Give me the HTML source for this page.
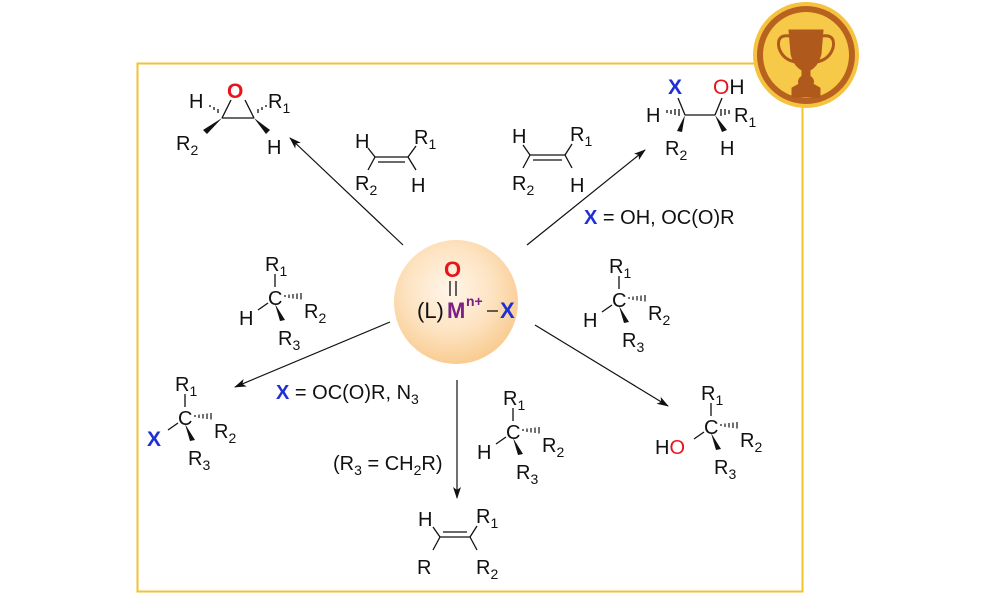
<!DOCTYPE html>
<html><head><meta charset="utf-8"><style>
body{margin:0;background:#fff}
svg{display:block}
text{font-family:"Liberation Sans",sans-serif;font-size:20px;fill:#111}
.s{font-size:14px}
</style></head><body>
<svg width="1000" height="595" viewBox="0 0 1000 595" xmlns="http://www.w3.org/2000/svg">
<defs>
<radialGradient id="g" cx="45%" cy="40%" r="60%">
<stop offset="0" stop-color="#fff6ea"/><stop offset="0.6" stop-color="#fde2bf"/><stop offset="1" stop-color="#f9cc92"/>
</radialGradient>
<marker id="a" markerWidth="12" markerHeight="8" refX="11" refY="4" orient="auto" markerUnits="userSpaceOnUse">
<path d="M0,0 L12,4 L0,8 L3,4z" fill="#111"/></marker>
<g id="tet">
<line x1="0" y1="-24" x2="0" y2="-11" stroke="#111" stroke-width="1.3"/>
<g stroke="#111" stroke-width="1.2">
<line x1="10" y1="-3" x2="10" y2="-1"/><line x1="14" y1="-3.5" x2="14" y2="0"/><line x1="18" y1="-4" x2="18" y2="0.5"/><line x1="22" y1="-4.5" x2="22" y2="1"/><line x1="26" y1="-5" x2="26" y2="1.5"/>
</g>
<path d="M0,6 L10,22 L5,23z" fill="#111"/>
</g>
</defs>
<rect x="137.5" y="63.5" width="665" height="528" fill="none" stroke="#f2c230" stroke-width="2"/>

<!-- center -->
<circle cx="456" cy="302" r="62" fill="url(#g)"/>
<text x="444" y="277" style="font-size:22px;font-weight:bold;fill:#e8141b">O</text>
<line x1="450" y1="281" x2="450" y2="296" stroke="#111" stroke-width="1.3"/>
<line x1="456" y1="281" x2="456" y2="296" stroke="#111" stroke-width="1.3"/>
<text x="417" y="318" style="font-size:22px">(L)</text>
<text x="447" y="318" style="font-size:22px;font-weight:bold;fill:#7a1f86">M</text>
<text x="466" y="306" style="font-size:14px;font-weight:bold;fill:#7a1f86">n+</text>
<line x1="487" y1="311" x2="498" y2="311" stroke="#111" stroke-width="1.3"/>
<text x="500" y="318" style="font-size:22px;font-weight:bold;fill:#1e2fd6">X</text>

<!-- arrows -->
<g stroke="#111" stroke-width="1.2" marker-end="url(#a)">
<line x1="403" y1="245" x2="290" y2="138"/>
<line x1="527" y1="245" x2="645" y2="150"/>
<line x1="390" y1="322" x2="235" y2="387"/>
<line x1="535" y1="325" x2="668" y2="406"/>
<line x1="457" y1="380" x2="457" y2="498"/>
</g>

<!-- epoxide -->
<text x="227" y="98" style="font-weight:bold;fill:#e8141b;font-size:21px">O</text>
<g stroke="#111" stroke-width="1.3">
<line x1="222" y1="118" x2="254" y2="118"/><line x1="222" y1="118" x2="231" y2="100"/><line x1="254" y1="118" x2="245" y2="100"/>
<line x1="210" y1="105" x2="210" y2="107"/><line x1="214" y1="107" x2="214" y2="110"/><line x1="218" y1="109" x2="218" y2="113"/>
<line x1="258" y1="109" x2="258" y2="113"/><line x1="262" y1="107" x2="262" y2="110"/><line x1="266" y1="105" x2="266" y2="107"/>
</g>
<path d="M222,118 L203,130 L207,134z" fill="#111"/><path d="M254,118 L266,134 L270,130z" fill="#111"/>
<text x="189" y="108">H</text><text x="268" y="108">R<tspan class="s" dy="5">1</tspan></text>
<text x="176" y="150">R<tspan class="s" dy="5">2</tspan></text><text x="267" y="154">H</text>

<!-- alkene top-left -->
<g stroke="#111" stroke-width="1.3">
<line x1="375" y1="157" x2="408" y2="157"/><line x1="378" y1="162" x2="405" y2="162"/>
<line x1="375" y1="157" x2="368" y2="148"/><line x1="375" y1="157" x2="368" y2="170"/>
<line x1="408" y1="157" x2="416" y2="146"/><line x1="408" y1="157" x2="416" y2="170"/>
</g>
<text x="355" y="148">H</text><text x="414" y="144">R<tspan class="s" dy="5">1</tspan></text>
<text x="355" y="190">R<tspan class="s" dy="5">2</tspan></text><text x="411" y="192">H</text>

<!-- alkene top-right -->
<g stroke="#111" stroke-width="1.3">
<line x1="530" y1="155" x2="565" y2="155"/><line x1="533" y1="160" x2="562" y2="160"/>
<line x1="530" y1="155" x2="523" y2="145"/><line x1="530" y1="155" x2="523" y2="168"/>
<line x1="565" y1="155" x2="572" y2="144"/><line x1="565" y1="155" x2="572" y2="168"/>
</g>
<text x="512" y="143">H</text><text x="570" y="141">R<tspan class="s" dy="5">1</tspan></text>
<text x="512" y="190">R<tspan class="s" dy="5">2</tspan></text><text x="570" y="192">H</text>

<!-- diol -->
<text x="668" y="94" style="font-weight:bold;fill:#1e2fd6;font-size:21px">X</text>
<text x="713" y="94" style="font-size:21px"><tspan style="fill:#e8141b">O</tspan>H</text>
<g stroke="#111" stroke-width="1.3">
<line x1="685" y1="115" x2="715" y2="115"/><line x1="685" y1="115" x2="678" y2="98"/><line x1="715" y1="115" x2="722" y2="98"/>
<line x1="667" y1="110" x2="667" y2="113"/><line x1="671" y1="110" x2="671" y2="114"/><line x1="675" y1="109" x2="675" y2="115"/><line x1="679" y1="109" x2="679" y2="116"/>
<line x1="721" y1="109" x2="721" y2="116"/><line x1="725" y1="109" x2="725" y2="115"/><line x1="729" y1="110" x2="729" y2="114"/>
</g>
<path d="M685,115 L677,131 L682,132z" fill="#111"/><path d="M715,115 L722,132 L727,130z" fill="#111"/>
<text x="646" y="122">H</text><text x="734" y="122">R<tspan class="s" dy="5">1</tspan></text>
<text x="665" y="155">R<tspan class="s" dy="5">2</tspan></text><text x="720" y="155">H</text>
<text x="584" y="224"><tspan style="font-weight:bold;fill:#1e2fd6">X</tspan> = OH, OC(O)R</text>

<!-- tet carbons -->
<g transform="translate(275,298)"><use href="#tet"/><line x1="-7" y1="5" x2="-17" y2="12" stroke="#111" stroke-width="1.3"/>
<text x="-7" y="7">C</text><text x="-10" y="-27">R<tspan class="s" dy="5">1</tspan></text><text x="29" y="20">R<tspan class="s" dy="5">2</tspan></text><text x="-36" y="27">H</text><text x="3" y="47">R<tspan class="s" dy="5">3</tspan></text></g>

<g transform="translate(185,418)"><use href="#tet"/><line x1="-7" y1="5" x2="-17" y2="12" stroke="#111" stroke-width="1.3"/>
<text x="-7" y="7">C</text><text x="-10" y="-27">R<tspan class="s" dy="5">1</tspan></text><text x="29" y="20">R<tspan class="s" dy="5">2</tspan></text><text x="-38" y="28" style="font-weight:bold;fill:#1e2fd6;font-size:21px">X</text><text x="3" y="47">R<tspan class="s" dy="5">3</tspan></text></g>

<g transform="translate(513,432)"><use href="#tet"/><line x1="-7" y1="5" x2="-17" y2="12" stroke="#111" stroke-width="1.3"/>
<text x="-7" y="7">C</text><text x="-10" y="-27">R<tspan class="s" dy="5">1</tspan></text><text x="29" y="20">R<tspan class="s" dy="5">2</tspan></text><text x="-36" y="27">H</text><text x="3" y="47">R<tspan class="s" dy="5">3</tspan></text></g>

<g transform="translate(619,300)"><use href="#tet"/><line x1="-7" y1="5" x2="-17" y2="12" stroke="#111" stroke-width="1.3"/>
<text x="-7" y="7">C</text><text x="-10" y="-27">R<tspan class="s" dy="5">1</tspan></text><text x="29" y="20">R<tspan class="s" dy="5">2</tspan></text><text x="-36" y="27">H</text><text x="3" y="47">R<tspan class="s" dy="5">3</tspan></text></g>

<g transform="translate(711,427)"><use href="#tet"/><line x1="-7" y1="5" x2="-17" y2="12" stroke="#111" stroke-width="1.3"/>
<text x="-7" y="7">C</text><text x="-10" y="-27">R<tspan class="s" dy="5">1</tspan></text><text x="29" y="20">R<tspan class="s" dy="5">2</tspan></text><text x="-56" y="27">H<tspan style="fill:#e8141b">O</tspan></text><text x="3" y="47">R<tspan class="s" dy="5">3</tspan></text></g>

<text x="276" y="399"><tspan style="font-weight:bold;fill:#1e2fd6">X</tspan> = OC(O)R, N<tspan class="s" dy="5">3</tspan></text>
<text x="333" y="470">(R<tspan class="s" dy="5">3</tspan><tspan dy="-5"> = CH</tspan><tspan class="s" dy="5">2</tspan><tspan dy="-5">R)</tspan></text>

<!-- bottom alkene -->
<g stroke="#111" stroke-width="1.3">
<line x1="440" y1="537" x2="470" y2="537"/><line x1="443" y1="532" x2="467" y2="532"/>
<line x1="440" y1="537" x2="433" y2="527"/><line x1="440" y1="537" x2="433" y2="550"/>
<line x1="470" y1="537" x2="477" y2="526"/><line x1="470" y1="537" x2="477" y2="550"/>
</g>
<text x="418" y="526">H</text><text x="476" y="523">R<tspan class="s" dy="5">1</tspan></text>
<text x="417" y="574">R</text><text x="476" y="574">R<tspan class="s" dy="5">2</tspan></text>

<!-- trophy -->
<circle cx="806" cy="55" r="53" fill="#f6c340"/>
<circle cx="806" cy="55" r="49" fill="#b8621f"/>
<circle cx="806" cy="55" r="43" fill="#f7c948"/>
<g fill="#b0591c" stroke="#b0591c">
<path d="M789,30 L823,30 L821,54 Q818,66 810,70 L810,76 Q815,80 813,84 L820,88 L820,97 L792,97 L792,88 L799,84 Q797,80 802,76 L802,70 Q794,66 791,54z"/>
<path d="M790,36 Q776,34 779,48 Q783,60 796,62" fill="none" stroke-width="3"/>
<path d="M822,36 Q836,34 833,48 Q829,60 816,62" fill="none" stroke-width="3"/>
</g>
</svg>
</body></html>
